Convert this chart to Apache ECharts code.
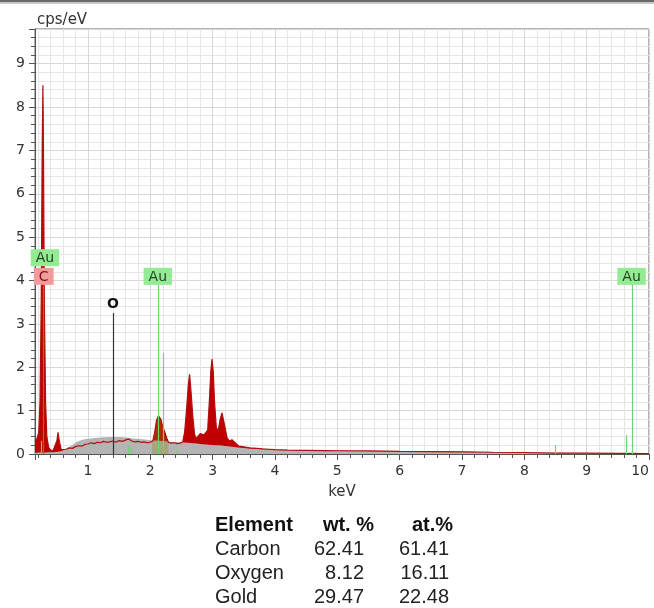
<!DOCTYPE html>
<html>
<head>
<meta charset="utf-8">
<script src="https://cdn.jsdelivr.net/npm/echarts@6/dist/echarts.min.js"></script>
<style>
html,body{margin:0;padding:0;background:#fff;}
#chart{width:654px;height:608px;}
</style>
</head>
<body>
<div id="chart"></div>
<script>
// ---- spectrum (measured counts) ----
const specKeV = [0.15,0.18,0.21,0.23,0.25,0.265,0.277,0.285,0.30,0.32,0.34,0.37,0.40,0.44,0.47,0.50,0.52,0.54,0.57,0.60,0.65,0.70,0.75,0.80,0.85,0.90,0.95,1.00,1.05,1.10,1.15,1.20,1.25,1.30,1.35,1.40,1.45,1.50,1.55,1.60,1.65,1.70,1.75,1.80,1.85,1.90,1.95,2.00,2.04,2.07,2.10,2.13,2.15,2.17,2.20,2.23,2.26,2.29,2.33,2.38,2.43,2.48,2.52,2.55,2.58,2.61,2.63,2.65,2.68,2.71,2.74,2.77,2.80,2.83,2.86,2.89,2.92,2.95,2.97,2.99,3.01,3.03,3.06,3.09,3.12,3.15,3.17,3.20,3.23,3.27,3.31,3.34,3.37,3.42,3.48,3.52,3.60,3.71,3.80,3.90,4.00,4.20,4.50,4.80,5.00,5.50,6.00,6.50,7.00,7.50,8.00,8.50,9.00,9.50,10.0];
const specCps = [0.30,0.35,0.50,1.20,3.50,7.00,8.50,7.20,3.50,1.20,0.40,0.15,0.09,0.08,0.12,0.30,0.50,0.30,0.10,0.09,0.11,0.14,0.13,0.17,0.19,0.18,0.22,0.23,0.26,0.24,0.27,0.26,0.29,0.27,0.28,0.30,0.27,0.31,0.29,0.32,0.35,0.30,0.28,0.29,0.27,0.28,0.26,0.27,0.30,0.50,0.78,0.88,0.90,0.80,0.62,0.52,0.38,0.27,0.25,0.26,0.24,0.25,0.28,0.50,1.00,1.60,1.84,1.50,0.90,0.45,0.36,0.42,0.47,0.46,0.44,0.42,0.55,1.30,1.90,2.19,1.90,1.20,0.60,0.55,0.80,0.95,0.92,0.60,0.38,0.30,0.33,0.34,0.25,0.18,0.17,0.16,0.14,0.13,0.12,0.11,0.10,0.09,0.085,0.08,0.075,0.07,0.06,0.055,0.05,0.04,0.035,0.02,0.02,0.015,0.01];

// ---- background (bremsstrahlung) ----
const bgKeV = [0.15,0.40,0.55,0.62,0.70,0.80,0.90,1.00,1.10,1.20,1.35,1.50,1.65,1.80,1.95,2.10,2.30,2.50,2.70,2.90,3.10,3.30,3.50,3.70,4.00,4.50,5.00,6.00,7.00,8.00,9.00,10.0];
const bgCps = [0.03,0.04,0.06,0.10,0.16,0.26,0.32,0.35,0.37,0.38,0.39,0.39,0.37,0.35,0.33,0.31,0.29,0.27,0.25,0.22,0.20,0.17,0.14,0.12,0.10,0.085,0.075,0.06,0.05,0.035,0.025,0.015];

// ---- Au M peak fit overlay ----
const fitKeV = [2.03,2.07,2.10,2.13,2.15,2.17,2.20,2.23,2.26,2.29];
const fitCps = [0.27,0.47,0.74,0.85,0.87,0.78,0.60,0.48,0.34,0.24];

// ---- element marker lines ----
const markerKeV = [0.24,0.277,1.40,1.64,1.69,2.12,2.20,2.43,8.50,9.63,9.72];
const markerTop = [0.30,3.90,3.25,0.20,0.16,3.90,2.33,0.12,0.20,0.44,3.90];
const markerColor = ['#6fd46f','#8a7a10','#333333','#6fd46f','#6fd46f','#6fd46f','#6fd46f','#6fd46f','#6fd46f','#6fd46f','#6fd46f'];

// ---- marker labels ----
const labelText = ['Au','C','O','Au','Au'];
const labelKeV = [0.31,0.29,1.40,2.12,9.72];
const labelBase = [4.33,3.90,3.25,3.90,3.90];
const labelBg = ['#93ec93','#f39a9a','transparent','#93ec93','#93ec93'];
const labelFg = ['#224422','#7a1414','#111111','#224422','#224422'];

// ---- quantification table ----
const tableHeader = ['Element','wt. %','at.%'];
const tableElement = ['Carbon','Oxygen','Gold'];
const tableWt = ['62.41','8.12','29.47'];
const tableAt = ['61.41','16.11','22.48'];

const pairs = (xs, ys) => xs.map((x, i) => [x, ys[i]]);

const chart = echarts.init(document.getElementById('chart'), null, {renderer: 'canvas'});

const tableGraphics = [];
const colLeft = 215, colWt = 364, colAt = 449;
const rowY = [525, 549, 573, 597];
const boldFont = 'bold 20px "Liberation Sans", Arial, sans-serif';
const normFont = '20px "Liberation Sans", Arial, sans-serif';
tableGraphics.push({type:'text', x:colLeft, y:rowY[0], style:{text:tableHeader[0], font:boldFont, fill:'#111', align:'left', verticalAlign:'middle'}});
tableGraphics.push({type:'text', x:374, y:rowY[0], style:{text:tableHeader[1], font:boldFont, fill:'#111', align:'right', verticalAlign:'middle'}});
tableGraphics.push({type:'text', x:453, y:rowY[0], style:{text:tableHeader[2], font:boldFont, fill:'#111', align:'right', verticalAlign:'middle'}});
tableElement.forEach((name, i) => {
  const y = rowY[i + 1];
  tableGraphics.push({type:'text', x:colLeft, y:y, style:{text:name, font:normFont, fill:'#222', align:'left', verticalAlign:'middle'}});
  tableGraphics.push({type:'text', x:colWt, y:y, style:{text:tableWt[i], font:normFont, fill:'#222', align:'right', verticalAlign:'middle'}});
  tableGraphics.push({type:'text', x:colAt, y:y, style:{text:tableAt[i], font:normFont, fill:'#222', align:'right', verticalAlign:'middle'}});
});

const option = {
  animation: false,
  backgroundColor: '#ffffff',
  grid: {left: 35, top: 29, right: 5, bottom: 154, show: true, borderColor: '#666', borderWidth: 1, backgroundColor: '#fff', containLabel: false},
  xAxis: {
    type: 'value', min: 0.15, max: 10, splitNumber: 10,
    name: 'keV', nameLocation: 'middle', nameGap: 31,
    nameTextStyle: {fontFamily: 'DejaVu Sans', fontSize: 15, color: '#333'},
    axisLine: {show: true, onZero: false, lineStyle: {color: '#555', width: 1}},
    axisTick: {show: true, length: 6, lineStyle: {color: '#555'}},
    minorTick: {show: true, splitNumber: 5, length: 4, lineStyle: {color: '#555'}},
    axisLabel: {fontFamily: 'DejaVu Sans', fontSize: 14, color: '#333', margin: 10, showMinLabel: false, alignMaxLabel: 'right'},
    splitLine: {show: true, lineStyle: {color: '#d6d6d6', width: 1}},
    minorSplitLine: {show: true, lineStyle: {color: '#e6e6e6', width: 1}}
  },
  yAxis: {
    type: 'value', min: 0, max: 9.8, splitNumber: 10,
    name: 'cps/eV', nameLocation: 'end', nameGap: 1,
    nameTextStyle: {fontFamily: 'DejaVu Sans', fontSize: 15, color: '#333', align: 'left', verticalAlign: 'bottom', padding: [0, 0, 0, 2]},
    axisLine: {show: true, lineStyle: {color: '#555', width: 1}},
    axisTick: {show: true, length: 6, lineStyle: {color: '#555'}},
    minorTick: {show: true, splitNumber: 5, length: 4, lineStyle: {color: '#555'}},
    axisLabel: {fontFamily: 'DejaVu Sans', fontSize: 14, color: '#333', margin: 10, showMaxLabel: false},
    splitLine: {show: true, lineStyle: {color: '#d6d6d6', width: 1}},
    minorSplitLine: {show: true, lineStyle: {color: '#e6e6e6', width: 1}}
  },
  graphic: [
    {type: 'rect', left: 0, top: 0, shape: {width: 654, height: 2}, style: {fill: '#6a6a6a'}, z: 100},
    {type: 'rect', left: 0, top: 2, shape: {width: 654, height: 2}, style: {fill: '#c8c8c8'}, z: 100}
  ].concat(tableGraphics),
  series: [
    {
      name: 'spectrum-fill', type: 'line', data: pairs(specKeV, specCps), z: 2,
      showSymbol: false, lineStyle: {width: 0, color: '#c00000'},
      areaStyle: {color: '#c00000', opacity: 1}, silent: true
    },
    {
      name: 'background', type: 'line', data: pairs(bgKeV, bgCps), z: 3, smooth: 0.3,
      showSymbol: false, lineStyle: {width: 0, color: '#b4b4b4'},
      areaStyle: {color: '#b4b4b4', opacity: 1}, silent: true
    },
    {
      name: 'fit', type: 'line', data: pairs(fitKeV, fitCps), z: 4, smooth: 0.3,
      showSymbol: false, lineStyle: {width: 0, color: '#7d8a00'},
      areaStyle: {color: 'rgba(125,138,0,0.45)'}, silent: true
    },
    {
      name: 'spectrum-line', type: 'line', data: pairs(specKeV, specCps), z: 5,
      showSymbol: false, lineStyle: {width: 1.2, color: '#b01010'}, silent: true
    },
    {
      name: 'markers', type: 'custom', z: 6, clip: false, silent: true,
      data: markerKeV.map((x, i) => [x, markerTop[i], i]),
      renderItem: function (params, api) {
        const x = api.value(0), top = api.value(1), i = api.value(2);
        const p0 = api.coord([x, 0]);
        const p1 = api.coord([x, top]);
        return {type: 'line', shape: {x1: Math.round(p0[0]) + 0.5, y1: p0[1], x2: Math.round(p1[0]) + 0.5, y2: p1[1]},
                style: {stroke: markerColor[i], lineWidth: 1.2}};
      }
    },
    {
      name: 'labels', type: 'custom', z: 7, clip: false, silent: true,
      data: labelKeV.map((x, i) => [x, labelBase[i], i]),
      renderItem: function (params, api) {
        const x = api.value(0), base = api.value(1), i = api.value(2);
        const p = api.coord([x, base]);
        const isO = labelText[i] === 'O';
        return {type: 'text', x: p[0], y: p[1] - (isO ? 2 : 0),
                style: {text: labelText[i], fill: labelFg[i], align: 'center', verticalAlign: 'bottom',
                        font: (isO ? 'bold ' : '') + '14px "DejaVu Sans", sans-serif',
                        backgroundColor: labelBg[i], padding: isO ? [0, 0] : [2, 5, 1, 5]}};
      }
    }
  ]
};
chart.setOption(option);
</script>
</body>
</html>
